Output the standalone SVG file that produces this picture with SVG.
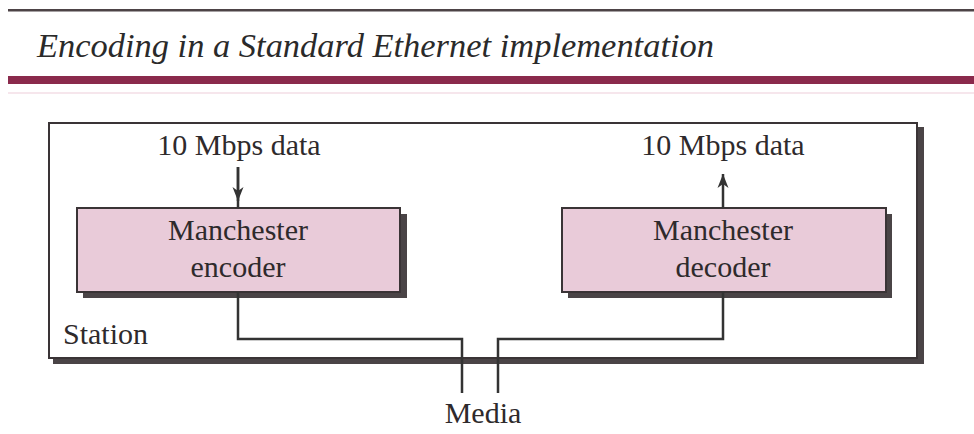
<svg xmlns="http://www.w3.org/2000/svg" width="974" height="434" viewBox="0 0 974 434">
<style>
.t{font-family:"Liberation Serif","Times New Roman",serif;font-size:30px;fill:#2e2a2c;text-anchor:middle}
.box{fill:#e9cbd9;stroke:#3a3436;stroke-width:2}
.sh{fill:#4a4446}
.ln{fill:none;stroke:#333;stroke-width:2.5}
</style>
<defs>
<marker id="ah" viewBox="0 0 14 12" refX="14" refY="6" markerWidth="14" markerHeight="12" markerUnits="userSpaceOnUse" orient="auto">
<path d="M0,0.5 L14,6 L0,11.5 L4,6 Z" fill="#333"/>
</marker>
</defs>
<rect width="974" height="434" fill="#ffffff"/>
<!-- header rules -->
<rect x="8" y="9" width="966" height="2.5" fill="#4d4346"/>
<text x="37" y="57" font-family="'Liberation Serif','Times New Roman',serif" font-style="italic" font-size="34" fill="#2a2a2a" textLength="677" lengthAdjust="spacingAndGlyphs">Encoding in a Standard Ethernet implementation</text>
<rect x="8" y="76" width="966" height="8" fill="#8a2a4c"/>
<rect x="8" y="92" width="966" height="2" fill="#f6e6ec"/>

<g id="station">
<rect class="sh" x="53" y="127" width="871" height="237"/>
<rect x="49" y="123" width="868" height="235" fill="#fff" stroke="#3a3436" stroke-width="2"/>
<text class="t" x="63" y="344" style="text-anchor:start">Station</text>
</g>

<g id="encoder">
<rect class="sh" x="83" y="214" width="324" height="84"/>
<rect class="box" x="77" y="208" width="323" height="84"/>
<text class="t" x="238" y="240">Manchester</text>
<text class="t" x="238" y="277">encoder</text>
</g>

<g id="decoder">
<rect class="sh" x="568" y="214" width="324" height="84"/>
<rect class="box" x="562" y="208" width="324" height="84"/>
<text class="t" x="723" y="240">Manchester</text>
<text class="t" x="723" y="277">decoder</text>
</g>

<g id="input-label"><text class="t" x="239" y="155">10 Mbps data</text></g>
<g id="output-label"><text class="t" x="723" y="155">10 Mbps data</text></g>
<g id="media-label"><text class="t" x="483" y="423">Media</text></g>

<g id="connectors">
<line class="ln" x1="238" y1="167" x2="238" y2="208"/>
<line class="ln" x1="238" y1="167" x2="238" y2="201" marker-end="url(#ah)"/>
<line class="ln" x1="723" y1="208" x2="723" y2="174" marker-end="url(#ah)"/>
<polyline class="ln" points="238,292 238,339 462,339 462,393"/>
<polyline class="ln" points="723,292 723,339 498,339 498,393"/>
</g>
</svg>
